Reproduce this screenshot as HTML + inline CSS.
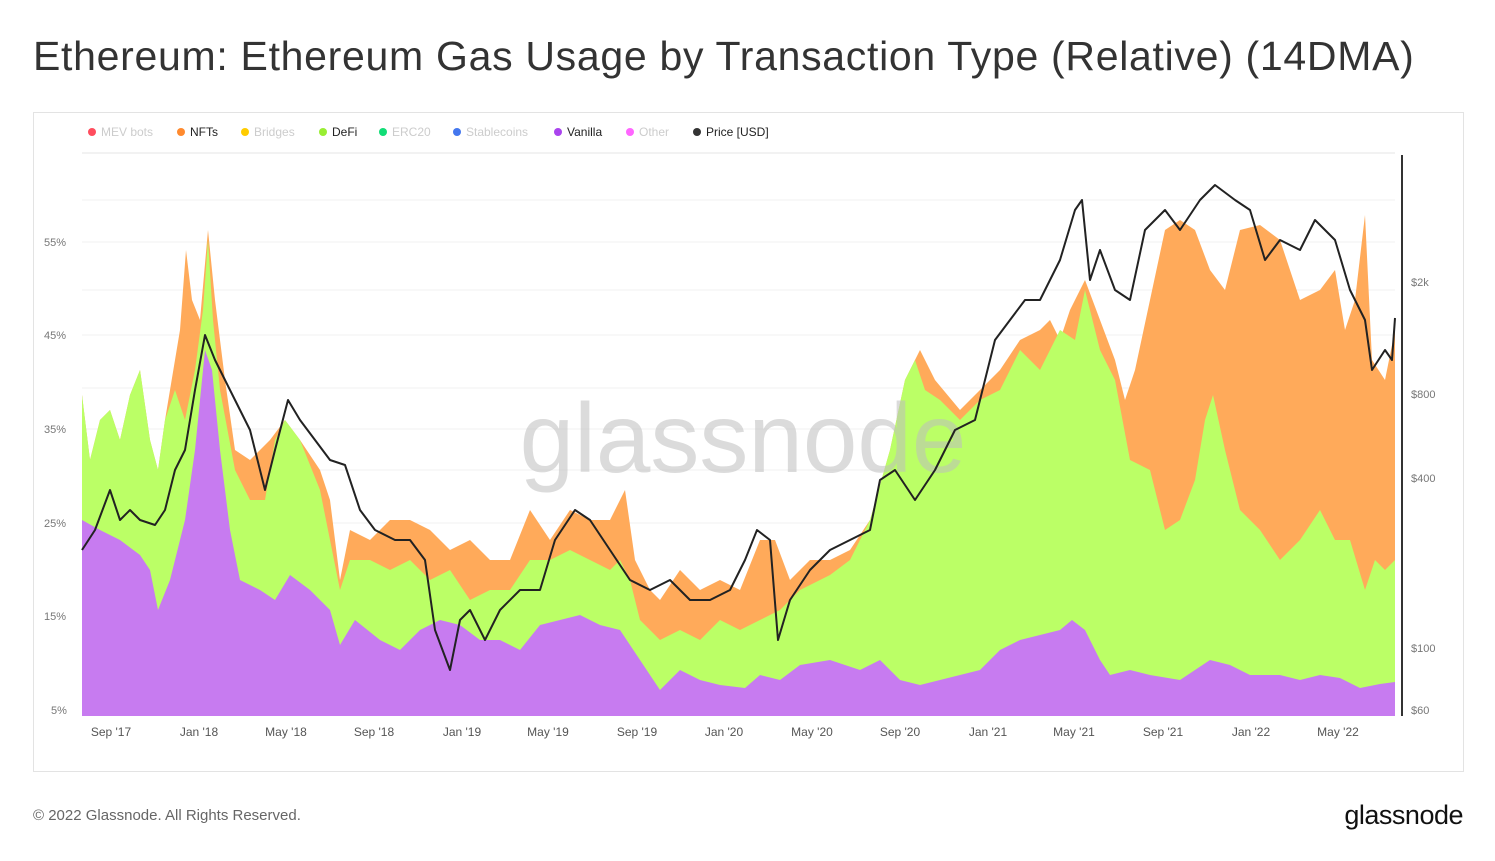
<!DOCTYPE html>
<html><head><meta charset="utf-8"><style>
body{margin:0;width:1495px;height:861px;background:#fff;font-family:"Liberation Sans",sans-serif;overflow:hidden;position:relative}
.t{position:absolute;left:33px;top:33px;font-size:41px;color:#333;letter-spacing:0.7px}
.box{position:absolute;left:33px;top:112px;width:1429px;height:658px;border:1px solid #e3e3e3}
.f{position:absolute;left:33px;top:807px;font-size:15px;color:#666}
.logo{position:absolute;right:32px;top:800px;font-size:27px;color:#111;letter-spacing:-0.5px}
</style></head><body>
<div class="t">Ethereum: Ethereum Gas Usage by Transaction Type (Relative) (14DMA)</div>
<div class="box"></div>
<svg style="position:absolute;left:0;top:0" width="1495" height="861" font-family="Liberation Sans, sans-serif">
<g font-size="12">
<circle cx="92" cy="132" r="4" fill="#ff4d5e"/><text x="101" y="136" fill="#ccc">MEV bots</text>
<circle cx="181" cy="132" r="4" fill="#ff8a2e"/><text x="190" y="136" fill="#222">NFTs</text>
<circle cx="245" cy="132" r="4" fill="#ffcc00"/><text x="254" y="136" fill="#ccc">Bridges</text>
<circle cx="323" cy="132" r="4" fill="#99ee33"/><text x="332" y="136" fill="#222">DeFi</text>
<circle cx="383" cy="132" r="4" fill="#11dd77"/><text x="392" y="136" fill="#ccc">ERC20</text>
<circle cx="457" cy="132" r="4" fill="#4477ee"/><text x="466" y="136" fill="#ccc">Stablecoins</text>
<circle cx="558" cy="132" r="4" fill="#aa44ee"/><text x="567" y="136" fill="#222">Vanilla</text>
<circle cx="630" cy="132" r="4" fill="#ff66ff"/><text x="639" y="136" fill="#ccc">Other</text>
<circle cx="697" cy="132" r="4" fill="#333"/><text x="706" y="136" fill="#222">Price [USD]</text>
</g>
<line x1="82" y1="153" x2="1395" y2="153" stroke="#e5e5e5"/>
<g stroke="#f0f0f0">
<line x1="82" y1="242" x2="1395" y2="242"/><line x1="82" y1="335" x2="1395" y2="335"/><line x1="82" y1="429" x2="1395" y2="429"/><line x1="82" y1="523" x2="1395" y2="523"/><line x1="82" y1="616" x2="1395" y2="616"/>
<line x1="82" y1="200" x2="1395" y2="200"/><line x1="82" y1="290" x2="1395" y2="290"/><line x1="82" y1="388" x2="1395" y2="388"/><line x1="82" y1="470" x2="1395" y2="470"/>
</g>
<polygon fill="#ffaa5a" points="82,716 82,395 90,460 100,420 110,410 120,440 130,395 140,370 150,440 158,470 165,420 170,390 180,330 186,250 192,300 200,320 208,230 215,300 225,380 235,450 250,460 270,440 285,420 300,440 320,470 330,500 340,580 350,530 370,540 390,520 410,520 430,530 450,550 470,540 490,560 510,560 530,510 550,540 570,510 590,520 610,520 625,490 635,560 650,590 660,600 680,570 700,590 720,580 740,590 760,540 775,540 790,580 810,560 830,560 850,550 870,520 890,450 905,380 920,350 935,380 960,410 980,390 1000,370 1020,340 1040,330 1050,320 1060,340 1070,310 1085,280 1100,320 1115,360 1125,400 1135,370 1150,300 1165,230 1180,220 1195,230 1210,270 1225,290 1240,230 1260,225 1280,240 1300,300 1320,290 1335,270 1345,330 1355,300 1365,215 1372,360 1385,380 1395,330 1395,716"/>
<polygon fill="#bbff66" points="82,716 82,395 90,460 100,420 110,410 120,440 130,395 140,370 150,440 158,470 165,420 175,390 185,420 195,370 203,310 208,240 213,320 220,390 235,470 250,500 265,500 275,440 285,420 300,440 320,490 330,540 340,590 350,560 370,560 390,570 410,560 430,580 450,570 470,600 490,590 510,590 530,560 550,560 570,550 590,560 610,570 620,560 630,580 640,620 660,640 680,630 700,640 720,620 740,630 760,620 780,610 800,590 830,575 850,560 870,520 890,450 905,380 915,360 925,390 940,400 960,420 980,400 1000,390 1020,350 1040,370 1060,330 1075,340 1085,290 1100,350 1115,380 1130,460 1150,470 1165,530 1180,520 1195,480 1205,420 1213,395 1225,450 1240,510 1260,530 1280,560 1300,540 1320,510 1335,540 1350,540 1365,590 1375,560 1385,570 1395,560 1395,716"/>
<polygon fill="#c77bf0" points="82,716 82,520 100,530 120,540 140,555 150,570 158,610 170,580 185,520 195,450 205,350 212,370 220,450 230,530 240,580 260,590 275,600 290,575 310,590 330,610 340,645 355,620 380,640 400,650 420,630 440,620 460,625 480,640 500,640 520,650 540,625 560,620 580,615 600,625 620,630 640,660 660,690 680,670 700,680 720,685 745,688 760,675 780,680 800,665 830,660 860,670 880,660 900,680 920,685 940,680 960,675 980,670 1000,650 1020,640 1040,635 1060,630 1072,620 1085,630 1100,660 1110,675 1130,670 1150,675 1180,680 1210,660 1230,665 1250,675 1280,675 1300,680 1320,675 1340,678 1360,688 1380,684 1395,682 1395,716"/>
<text x="743" y="472" font-size="98" fill="#bdbdbd" fill-opacity="0.55" text-anchor="middle">glassnode</text>
<polyline fill="none" stroke="#222" stroke-width="2" stroke-linejoin="round" points="82,550 95,530 110,490 120,520 130,510 140,520 155,525 165,510 175,470 185,450 195,390 205,335 215,360 225,380 235,400 250,430 265,490 275,450 288,400 300,420 315,440 330,460 345,465 360,510 375,530 395,540 410,540 425,560 435,630 450,670 460,620 470,610 485,640 500,610 520,590 540,590 555,540 575,510 590,520 610,550 630,580 650,590 670,580 690,600 710,600 730,590 745,560 757,530 770,540 778,640 790,600 810,570 830,550 850,540 870,530 880,480 895,470 915,500 935,470 955,430 975,420 995,340 1010,320 1025,300 1040,300 1060,260 1075,210 1082,200 1090,280 1100,250 1115,290 1130,300 1145,230 1165,210 1180,230 1200,200 1215,185 1235,200 1250,210 1265,260 1280,240 1300,250 1315,220 1335,240 1350,290 1365,320 1372,370 1385,350 1392,360 1395,318"/>
<line x1="1402" y1="155" x2="1402" y2="716" stroke="#333" stroke-width="2"/>
<g font-size="11" fill="#777">
<text x="44" y="246">55%</text><text x="44" y="339">45%</text><text x="44" y="433">35%</text><text x="44" y="527">25%</text><text x="44" y="620">15%</text><text x="51" y="714">5%</text>
<text x="1411" y="286">$2k</text><text x="1411" y="398">$800</text><text x="1411" y="482">$400</text><text x="1411" y="652">$100</text><text x="1411" y="714">$60</text>
</g>
<g font-size="12" fill="#555" text-anchor="middle">
<text x="111" y="736">Sep '17</text><text x="199" y="736">Jan '18</text><text x="286" y="736">May '18</text><text x="374" y="736">Sep '18</text><text x="462" y="736">Jan '19</text><text x="548" y="736">May '19</text><text x="637" y="736">Sep '19</text><text x="724" y="736">Jan '20</text><text x="812" y="736">May '20</text><text x="900" y="736">Sep '20</text><text x="988" y="736">Jan '21</text><text x="1074" y="736">May '21</text><text x="1163" y="736">Sep '21</text><text x="1251" y="736">Jan '22</text><text x="1338" y="736">May '22</text>
</g>
</svg>
<div class="f">© 2022 Glassnode. All Rights Reserved.</div>
<div class="logo">glassnode</div>
</body></html>
